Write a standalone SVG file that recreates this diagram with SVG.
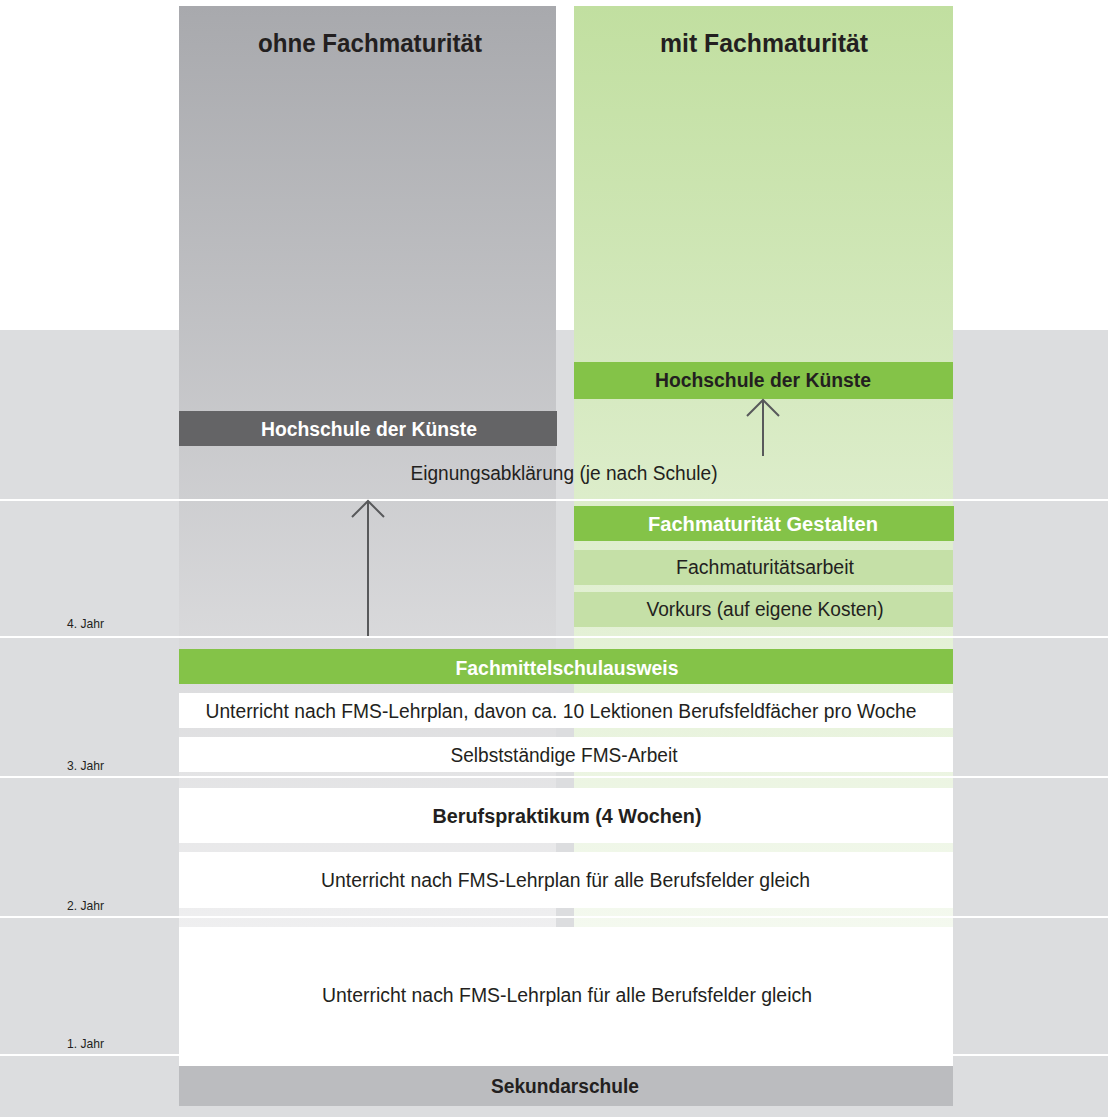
<svg xmlns="http://www.w3.org/2000/svg" width="1108" height="1117" viewBox="0 0 1108 1117">
<defs>
<linearGradient id="gGrey" gradientUnits="userSpaceOnUse" x1="0" y1="6" x2="0" y2="927">
<stop offset="0" stop-color="#a8a9ad"/>
<stop offset="1" stop-color="#efeff0"/>
</linearGradient>
<linearGradient id="gGreen" gradientUnits="userSpaceOnUse" x1="0" y1="6" x2="0" y2="927">
<stop offset="0" stop-color="#c1dfa0"/>
<stop offset="1" stop-color="#f4f9ef"/>
</linearGradient>
<style>
text{font-family:"Liberation Sans",Arial,sans-serif;fill:#231f20;text-anchor:middle}
.b{font-weight:bold}
.w{fill:#ffffff}
.t{font-size:25px;font-weight:bold}
.n{font-size:20px}
.y{font-size:13px;text-anchor:start}
.sep{fill:#ffffff}
.arrow{stroke:#58595b;stroke-width:2;fill:none}
</style>
</defs>
<rect width="1108" height="1117" fill="#ffffff"/>
<rect id="band" x="0" y="330" width="1108" height="787" fill="#dcdddf"/>
<g id="col-ohne">
<rect x="179" y="6" width="377" height="921" fill="url(#gGrey)"/>
<text class="t" x="370" y="52" textLength="224" lengthAdjust="spacingAndGlyphs">ohne Fachmaturität</text>
</g>
<g id="col-mit">
<rect x="574" y="6" width="379" height="921" fill="url(#gGreen)"/>
<text class="t" x="764" y="52" textLength="208" lengthAdjust="spacingAndGlyphs">mit Fachmaturität</text>
</g>
<g id="separators">
<rect class="sep" x="0" y="499" width="1108" height="2"/>
<rect class="sep" x="0" y="636" width="1108" height="2"/>
<rect class="sep" x="0" y="776" width="1108" height="2"/>
<rect class="sep" x="0" y="916" width="1108" height="2"/>
<rect class="sep" x="0" y="1054" width="1108" height="2"/>
</g>
<g id="years">
<text class="y" x="67" y="628" textLength="37" lengthAdjust="spacingAndGlyphs">4. Jahr</text>
<text class="y" x="67" y="770" textLength="37" lengthAdjust="spacingAndGlyphs">3. Jahr</text>
<text class="y" x="67" y="910" textLength="37" lengthAdjust="spacingAndGlyphs">2. Jahr</text>
<text class="y" x="67" y="1048" textLength="37" lengthAdjust="spacingAndGlyphs">1. Jahr</text>
</g>
<g id="hs-ohne">
<rect x="179" y="411" width="378" height="35" fill="#646466"/>
<text class="n b w" x="369" y="436" textLength="216" lengthAdjust="spacingAndGlyphs">Hochschule der Künste</text>
</g>
<g id="hs-mit">
<rect x="574" y="362" width="379" height="37" fill="#84c348"/>
<text class="n b" x="763" y="387" textLength="216" lengthAdjust="spacingAndGlyphs">Hochschule der Künste</text>
</g>
<g id="eignung">
<text class="n" x="564" y="480" textLength="307" lengthAdjust="spacingAndGlyphs">Eignungsabklärung (je nach Schule)</text>
</g>
<g id="fm-gestalten">
<rect x="574" y="506" width="380" height="35" fill="#84c348"/>
<text class="n b w" x="763" y="531" textLength="230" lengthAdjust="spacingAndGlyphs">Fachmaturität Gestalten</text>
</g>
<g id="fm-arbeit">
<rect x="574" y="550" width="379" height="35" fill="#c5e0a7"/>
<text class="n" x="765" y="573.5" textLength="178" lengthAdjust="spacingAndGlyphs">Fachmaturitätsarbeit</text>
</g>
<g id="vorkurs">
<rect x="574" y="592" width="379" height="35" fill="#c5e0a7"/>
<text class="n" x="765" y="615.5" textLength="237" lengthAdjust="spacingAndGlyphs">Vorkurs (auf eigene Kosten)</text>
</g>
<g id="fms-ausweis">
<rect x="179" y="649" width="774" height="35" fill="#84c348"/>
<text class="n b w" x="567" y="674.5" textLength="223" lengthAdjust="spacingAndGlyphs">Fachmittelschulausweis</text>
</g>
<g id="unterricht-3">
<rect x="179" y="693" width="774" height="35" fill="#ffffff"/>
<text class="n" x="561" y="717.5" textLength="711" lengthAdjust="spacingAndGlyphs">Unterricht nach FMS-Lehrplan, davon ca. 10 Lektionen Berufsfeldfächer pro Woche</text>
</g>
<g id="fms-arbeit">
<rect x="179" y="737" width="774" height="35" fill="#ffffff"/>
<text class="n" x="564" y="761.7" textLength="227" lengthAdjust="spacingAndGlyphs">Selbstständige FMS-Arbeit</text>
</g>
<g id="praktikum">
<rect x="179" y="788" width="774" height="55" fill="#ffffff"/>
<text class="n b" x="567" y="823.3" textLength="269" lengthAdjust="spacingAndGlyphs">Berufspraktikum (4 Wochen)</text>
</g>
<g id="unterricht-2">
<rect x="179" y="852" width="774" height="56" fill="#ffffff"/>
<text class="n" x="565.5" y="886.7" textLength="489" lengthAdjust="spacingAndGlyphs">Unterricht nach FMS-Lehrplan für alle Berufsfelder gleich</text>
</g>
<g id="unterricht-1">
<rect x="179" y="927" width="774" height="139" fill="#ffffff"/>
<text class="n" x="567" y="1002" textLength="490" lengthAdjust="spacingAndGlyphs">Unterricht nach FMS-Lehrplan für alle Berufsfelder gleich</text>
</g>
<g id="sekundarschule">
<rect x="179" y="1066" width="774" height="40" fill="#bbbcbf"/>
<text class="n b" x="565" y="1093.3" textLength="148" lengthAdjust="spacingAndGlyphs">Sekundarschule</text>
</g>
<g id="connectors">
<path class="arrow" d="M368 636 V501 M352 517 L368 501 L384 517"/>
<path class="arrow" d="M763 456 V400 M747 416 L763 400 L779 416"/>
</g>
</svg>
